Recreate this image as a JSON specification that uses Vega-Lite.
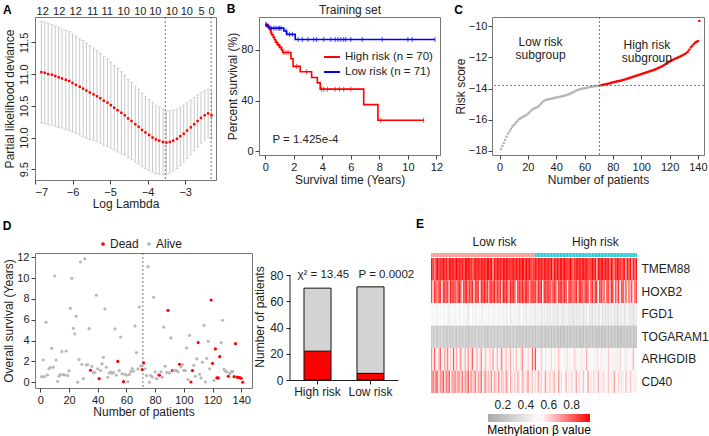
{
"$schema": "https://vega.github.io/schema/vega-lite/v6.json",
"padding": {"left": 2, "top": 2, "right": 0, "bottom": 0},
"background": "white",
"config": {
 "font": "Liberation Sans",
 "view": {"stroke": "#777777"},
 "axis": {"labelFontSize": 11, "titleFontSize": 12, "titleFontWeight": "normal", "labelColor": "#222222", "titleColor": "#222222", "tickColor": "#444444", "domain": false, "grid": false, "tickSize": 4, "labelPadding": 2, "titlePadding": 2, "labelOverlap": false},
 "title": {"fontSize": 12, "fontWeight": "bold", "anchor": "start", "frame": "bounds", "color": "#000000"},
 "legend": {"labelFontSize": 11.5, "labelColor": "#222222"}
},
"datasets": {
 "lasso": [
  {"ll":-6.83,"dev":11.03,"lo":10.23,"hi":11.83},{"ll":-6.74,"dev":11.02,"lo":10.22,"hi":11.82},{"ll":-6.65,"dev":11.00,"lo":10.20,"hi":11.80},{"ll":-6.55,"dev":10.99,"lo":10.20,"hi":11.78},{"ll":-6.46,"dev":10.97,"lo":10.18,"hi":11.76},
  {"ll":-6.37,"dev":10.95,"lo":10.16,"hi":11.74},{"ll":-6.28,"dev":10.93,"lo":10.15,"hi":11.71},{"ll":-6.18,"dev":10.91,"lo":10.13,"hi":11.69},{"ll":-6.09,"dev":10.89,"lo":10.11,"hi":11.67},{"ll":-6.00,"dev":10.86,"lo":10.09,"hi":11.63},
  {"ll":-5.91,"dev":10.83,"lo":10.06,"hi":11.60},{"ll":-5.81,"dev":10.80,"lo":10.04,"hi":11.56},{"ll":-5.72,"dev":10.77,"lo":10.01,"hi":11.53},{"ll":-5.63,"dev":10.74,"lo":9.99,"hi":11.49},{"ll":-5.54,"dev":10.71,"lo":9.97,"hi":11.45},
  {"ll":-5.44,"dev":10.68,"lo":9.95,"hi":11.41},{"ll":-5.35,"dev":10.65,"lo":9.93,"hi":11.37},{"ll":-5.26,"dev":10.62,"lo":9.91,"hi":11.33},{"ll":-5.17,"dev":10.58,"lo":9.88,"hi":11.28},{"ll":-5.07,"dev":10.55,"lo":9.86,"hi":11.24},
  {"ll":-4.98,"dev":10.51,"lo":9.83,"hi":11.19},{"ll":-4.89,"dev":10.47,"lo":9.80,"hi":11.14},{"ll":-4.80,"dev":10.43,"lo":9.77,"hi":11.09},{"ll":-4.70,"dev":10.39,"lo":9.74,"hi":11.04},{"ll":-4.61,"dev":10.35,"lo":9.72,"hi":10.98},
  {"ll":-4.52,"dev":10.30,"lo":9.68,"hi":10.92},{"ll":-4.43,"dev":10.26,"lo":9.65,"hi":10.87},{"ll":-4.33,"dev":10.21,"lo":9.61,"hi":10.81},{"ll":-4.24,"dev":10.17,"lo":9.58,"hi":10.76},{"ll":-4.15,"dev":10.12,"lo":9.54,"hi":10.70},
  {"ll":-4.06,"dev":10.08,"lo":9.51,"hi":10.65},{"ll":-3.96,"dev":10.04,"lo":9.48,"hi":10.60},{"ll":-3.87,"dev":10.00,"lo":9.45,"hi":10.55},{"ll":-3.78,"dev":9.97,"lo":9.43,"hi":10.51},{"ll":-3.69,"dev":9.95,"lo":9.42,"hi":10.48},
  {"ll":-3.59,"dev":9.93,"lo":9.41,"hi":10.45},{"ll":-3.50,"dev":9.92,"lo":9.42,"hi":10.42},{"ll":-3.41,"dev":9.93,"lo":9.44,"hi":10.42},{"ll":-3.32,"dev":9.95,"lo":9.47,"hi":10.43},{"ll":-3.22,"dev":9.98,"lo":9.51,"hi":10.45},
  {"ll":-3.13,"dev":10.02,"lo":9.56,"hi":10.48},{"ll":-3.04,"dev":10.06,"lo":9.61,"hi":10.51},{"ll":-2.95,"dev":10.11,"lo":9.67,"hi":10.55},{"ll":-2.85,"dev":10.16,"lo":9.73,"hi":10.59},{"ll":-2.76,"dev":10.21,"lo":9.79,"hi":10.63},
  {"ll":-2.67,"dev":10.26,"lo":9.85,"hi":10.67},{"ll":-2.58,"dev":10.31,"lo":9.91,"hi":10.71},{"ll":-2.48,"dev":10.35,"lo":9.96,"hi":10.74},{"ll":-2.39,"dev":10.38,"lo":10.00,"hi":10.76},{"ll":-2.30,"dev":10.35,"lo":9.98,"hi":10.72}
 ],
 "km": [
  {"t":0,"s":100,"g":"High risk (n = 70)"},{"t":0.2,"s":98,"g":"High risk (n = 70)"},{"t":0.3,"s":96,"g":"High risk (n = 70)"},{"t":0.38,"s":94,"g":"High risk (n = 70)"},{"t":0.45,"s":92,"g":"High risk (n = 70)"},{"t":0.55,"s":90,"g":"High risk (n = 70)"},{"t":0.65,"s":88,"g":"High risk (n = 70)"},{"t":0.72,"s":86,"g":"High risk (n = 70)"},{"t":0.85,"s":84,"g":"High risk (n = 70)"},{"t":1.0,"s":82,"g":"High risk (n = 70)"},{"t":1.15,"s":80,"g":"High risk (n = 70)"},{"t":1.22,"s":78,"g":"High risk (n = 70)"},{"t":1.8,"s":73,"g":"High risk (n = 70)"},{"t":1.95,"s":67,"g":"High risk (n = 70)"},{"t":2.45,"s":62.7,"g":"High risk (n = 70)"},{"t":3.25,"s":58.2,"g":"High risk (n = 70)"},{"t":3.65,"s":54,"g":"High risk (n = 70)"},{"t":3.85,"s":49,"g":"High risk (n = 70)"},{"t":6.9,"s":36.8,"g":"High risk (n = 70)"},{"t":7.9,"s":24.5,"g":"High risk (n = 70)"},{"t":11.1,"s":24.5,"g":"High risk (n = 70)"},
  {"t":0,"s":100,"g":"Low risk (n = 71)"},{"t":0.1,"s":98.6,"g":"Low risk (n = 71)"},{"t":0.3,"s":97.2,"g":"Low risk (n = 71)"},{"t":1.3,"s":95,"g":"Low risk (n = 71)"},{"t":1.5,"s":92.3,"g":"Low risk (n = 71)"},{"t":2.1,"s":88.2,"g":"Low risk (n = 71)"},{"t":11.9,"s":88.2,"g":"Low risk (n = 71)"}
 ],
 "cens": [
  {"t":0.05,"s":100,"g":"High risk (n = 70)"},{"t":0.25,"s":98,"g":"High risk (n = 70)"},{"t":0.4,"s":94,"g":"High risk (n = 70)"},{"t":0.6,"s":90,"g":"High risk (n = 70)"},{"t":0.8,"s":86,"g":"High risk (n = 70)"},{"t":0.92,"s":84,"g":"High risk (n = 70)"},{"t":1.05,"s":82,"g":"High risk (n = 70)"},{"t":1.3,"s":78,"g":"High risk (n = 70)"},{"t":1.45,"s":78,"g":"High risk (n = 70)"},{"t":1.6,"s":78,"g":"High risk (n = 70)"},{"t":2.2,"s":67,"g":"High risk (n = 70)"},{"t":2.9,"s":62.7,"g":"High risk (n = 70)"},{"t":3.95,"s":49,"g":"High risk (n = 70)"},{"t":4.1,"s":49,"g":"High risk (n = 70)"},{"t":4.35,"s":49,"g":"High risk (n = 70)"},{"t":4.9,"s":49,"g":"High risk (n = 70)"},{"t":5.2,"s":49,"g":"High risk (n = 70)"},{"t":5.5,"s":49,"g":"High risk (n = 70)"},{"t":6.0,"s":49,"g":"High risk (n = 70)"},{"t":8.1,"s":24.5,"g":"High risk (n = 70)"},{"t":11.1,"s":24.5,"g":"High risk (n = 70)"},
  {"t":0.05,"s":100,"g":"Low risk (n = 71)"},{"t":0.2,"s":98.6,"g":"Low risk (n = 71)"},{"t":0.45,"s":97.2,"g":"Low risk (n = 71)"},{"t":0.6,"s":97.2,"g":"Low risk (n = 71)"},{"t":0.75,"s":97.2,"g":"Low risk (n = 71)"},{"t":0.9,"s":97.2,"g":"Low risk (n = 71)"},{"t":1.0,"s":97.2,"g":"Low risk (n = 71)"},{"t":1.1,"s":97.2,"g":"Low risk (n = 71)"},{"t":1.45,"s":95,"g":"Low risk (n = 71)"},{"t":1.7,"s":92.3,"g":"Low risk (n = 71)"},{"t":1.9,"s":92.3,"g":"Low risk (n = 71)"},{"t":2.3,"s":88.2,"g":"Low risk (n = 71)"},{"t":2.6,"s":88.2,"g":"Low risk (n = 71)"},{"t":3.0,"s":88.2,"g":"Low risk (n = 71)"},{"t":3.4,"s":88.2,"g":"Low risk (n = 71)"},{"t":3.6,"s":88.2,"g":"Low risk (n = 71)"},{"t":4.1,"s":88.2,"g":"Low risk (n = 71)"},{"t":4.6,"s":88.2,"g":"Low risk (n = 71)"},{"t":4.9,"s":88.2,"g":"Low risk (n = 71)"},{"t":5.1,"s":88.2,"g":"Low risk (n = 71)"},{"t":5.3,"s":88.2,"g":"Low risk (n = 71)"},{"t":5.5,"s":88.2,"g":"Low risk (n = 71)"},{"t":5.65,"s":88.2,"g":"Low risk (n = 71)"},{"t":6.0,"s":88.2,"g":"Low risk (n = 71)"},{"t":6.8,"s":88.2,"g":"Low risk (n = 71)"},{"t":8.2,"s":88.2,"g":"Low risk (n = 71)"},{"t":10.0,"s":88.2,"g":"Low risk (n = 71)"},{"t":10.3,"s":88.2,"g":"Low risk (n = 71)"},{"t":11.9,"s":88.2,"g":"Low risk (n = 71)"}
 ],
 "pts": [
  {"p":1,"r":-17.9,"os":0.54,"st":"Alive","g":"Low risk","TMEM88":0.93,"HOXB2":0.85,"FGD1":0.50,"TOGARAM1":0.26,"ARHGDIB":0.72,"CD40":0.70},
  {"p":2,"r":-17.7,"os":2.14,"st":"Alive","g":"Low risk","TMEM88":0.90,"HOXB2":0.60,"FGD1":0.46,"TOGARAM1":0.24,"ARHGDIB":0.48,"CD40":0.78},
  {"p":3,"r":-17.5,"os":0.54,"st":"Alive","g":"Low risk","TMEM88":0.72,"HOXB2":0.88,"FGD1":0.52,"TOGARAM1":0.28,"ARHGDIB":0.80,"CD40":0.62},
  {"p":4,"r":-17.3,"os":5.76,"st":"Alive","g":"Low risk","TMEM88":0.92,"HOXB2":0.82,"FGD1":0.48,"TOGARAM1":0.25,"ARHGDIB":0.55,"CD40":0.80},
  {"p":5,"r":-17.1,"os":0.70,"st":"Alive","g":"Low risk","TMEM88":0.94,"HOXB2":0.70,"FGD1":0.44,"TOGARAM1":0.23,"ARHGDIB":0.50,"CD40":0.75},
  {"p":6,"r":-16.9,"os":1.30,"st":"Alive","g":"Low risk","TMEM88":0.91,"HOXB2":0.90,"FGD1":0.51,"TOGARAM1":0.27,"ARHGDIB":0.66,"CD40":0.58},
  {"p":7,"r":-16.75,"os":1.42,"st":"Alive","g":"Low risk","TMEM88":0.88,"HOXB2":0.86,"FGD1":0.47,"TOGARAM1":0.25,"ARHGDIB":0.78,"CD40":0.72},
  {"p":8,"r":-16.6,"os":3.26,"st":"Alive","g":"Low risk","TMEM88":0.93,"HOXB2":0.55,"FGD1":0.53,"TOGARAM1":0.29,"ARHGDIB":0.52,"CD40":0.66},
  {"p":9,"r":-16.45,"os":1.45,"st":"Alive","g":"Low risk","TMEM88":0.95,"HOXB2":0.84,"FGD1":0.45,"TOGARAM1":0.24,"ARHGDIB":0.47,"CD40":0.82},
  {"p":10,"r":-16.35,"os":10.2,"st":"Alive","g":"Low risk","TMEM88":0.90,"HOXB2":0.89,"FGD1":0.49,"TOGARAM1":0.26,"ARHGDIB":0.70,"CD40":0.60},
  {"p":11,"r":-16.25,"os":2.14,"st":"Alive","g":"Low risk","TMEM88":0.92,"HOXB2":0.80,"FGD1":0.52,"TOGARAM1":0.25,"ARHGDIB":0.58,"CD40":0.74},
  {"p":12,"r":-16.15,"os":0.10,"st":"Alive","g":"Low risk","TMEM88":0.80,"HOXB2":0.87,"FGD1":0.47,"TOGARAM1":0.22,"ARHGDIB":0.75,"CD40":0.68},
  {"p":13,"r":-16.05,"os":0.58,"st":"Alive","g":"Low risk","TMEM88":0.93,"HOXB2":0.65,"FGD1":0.43,"TOGARAM1":0.27,"ARHGDIB":0.50,"CD40":0.79},
  {"p":14,"r":-15.95,"os":0.74,"st":"Alive","g":"Low risk","TMEM88":0.91,"HOXB2":0.90,"FGD1":0.50,"TOGARAM1":0.26,"ARHGDIB":0.62,"CD40":0.56},
  {"p":15,"r":-15.9,"os":2.94,"st":"Alive","g":"Low risk","TMEM88":0.94,"HOXB2":0.85,"FGD1":0.48,"TOGARAM1":0.24,"ARHGDIB":0.49,"CD40":0.71},
  {"p":16,"r":-15.85,"os":0.74,"st":"Alive","g":"Low risk","TMEM88":0.89,"HOXB2":0.83,"FGD1":0.54,"TOGARAM1":0.28,"ARHGDIB":0.82,"CD40":0.64},
  {"p":17,"r":-15.8,"os":0.70,"st":"Alive","g":"Low risk","TMEM88":0.92,"HOXB2":0.88,"FGD1":0.46,"TOGARAM1":0.25,"ARHGDIB":0.56,"CD40":0.77},
  {"p":18,"r":-15.75,"os":3.00,"st":"Alive","g":"Low risk","TMEM88":0.95,"HOXB2":0.72,"FGD1":0.49,"TOGARAM1":0.23,"ARHGDIB":0.68,"CD40":0.60},
  {"p":19,"r":-15.7,"os":0.64,"st":"Alive","g":"Low risk","TMEM88":0.93,"HOXB2":0.86,"FGD1":0.51,"TOGARAM1":0.27,"ARHGDIB":0.51,"CD40":0.73},
  {"p":20,"r":-15.62,"os":1.09,"st":"Alive","g":"Low risk","TMEM88":0.90,"HOXB2":0.91,"FGD1":0.44,"TOGARAM1":0.25,"ARHGDIB":0.60,"CD40":0.69},
  {"p":21,"r":-15.55,"os":7.10,"st":"Alive","g":"Low risk","TMEM88":0.94,"HOXB2":0.84,"FGD1":0.48,"TOGARAM1":0.23,"ARHGDIB":0.74,"CD40":0.62},
  {"p":22,"r":-15.45,"os":9.98,"st":"Alive","g":"Low risk","TMEM88":0.91,"HOXB2":0.58,"FGD1":0.52,"TOGARAM1":0.26,"ARHGDIB":0.50,"CD40":0.76},
  {"p":23,"r":-15.35,"os":5.18,"st":"Alive","g":"Low risk","TMEM88":0.85,"HOXB2":0.88,"FGD1":0.45,"TOGARAM1":0.24,"ARHGDIB":0.57,"CD40":0.58},
  {"p":24,"r":-15.3,"os":4.64,"st":"Alive","g":"Low risk","TMEM88":0.93,"HOXB2":0.86,"FGD1":0.50,"TOGARAM1":0.28,"ARHGDIB":0.66,"CD40":0.70},
  {"p":25,"r":-15.25,"os":6.34,"st":"Alive","g":"Low risk","TMEM88":0.96,"HOXB2":0.90,"FGD1":0.47,"TOGARAM1":0.25,"ARHGDIB":0.48,"CD40":0.65},
  {"p":26,"r":-15.22,"os":0.00,"st":"Alive","g":"Low risk","TMEM88":0.92,"HOXB2":0.75,"FGD1":0.41,"TOGARAM1":0.22,"ARHGDIB":0.70,"CD40":0.80},
  {"p":27,"r":-15.18,"os":2.18,"st":"Alive","g":"Low risk","TMEM88":0.90,"HOXB2":0.87,"FGD1":0.49,"TOGARAM1":0.27,"ARHGDIB":0.53,"CD40":0.55},
  {"p":28,"r":-15.1,"os":11.55,"st":"Alive","g":"Low risk","TMEM88":0.93,"HOXB2":0.83,"FGD1":0.53,"TOGARAM1":0.24,"ARHGDIB":0.61,"CD40":0.72},
  {"p":29,"r":-15.0,"os":1.73,"st":"Alive","g":"Low risk","TMEM88":0.78,"HOXB2":0.89,"FGD1":0.46,"TOGARAM1":0.26,"ARHGDIB":0.79,"CD40":0.61},
  {"p":30,"r":-14.9,"os":0.35,"st":"Alive","g":"Low risk","TMEM88":0.94,"HOXB2":0.62,"FGD1":0.50,"TOGARAM1":0.25,"ARHGDIB":0.52,"CD40":0.67},
  {"p":31,"r":-14.82,"os":11.85,"st":"Alive","g":"Low risk","TMEM88":0.92,"HOXB2":0.86,"FGD1":0.44,"TOGARAM1":0.24,"ARHGDIB":0.55,"CD40":0.74},
  {"p":32,"r":-14.76,"os":1.66,"st":"Alive","g":"Low risk","TMEM88":0.95,"HOXB2":0.90,"FGD1":0.48,"TOGARAM1":0.27,"ARHGDIB":0.68,"CD40":0.57},
  {"p":33,"r":-14.72,"os":1.70,"st":"Alive","g":"Low risk","TMEM88":0.91,"HOXB2":0.84,"FGD1":0.51,"TOGARAM1":0.25,"ARHGDIB":0.49,"CD40":0.69},
  {"p":34,"r":-14.7,"os":5.15,"st":"Alive","g":"Low risk","TMEM88":0.93,"HOXB2":0.52,"FGD1":0.46,"TOGARAM1":0.23,"ARHGDIB":0.60,"CD40":0.63},
  {"p":35,"r":-14.68,"os":1.15,"st":"Dead","g":"Low risk","TMEM88":0.90,"HOXB2":0.88,"FGD1":0.49,"TOGARAM1":0.26,"ARHGDIB":0.72,"CD40":0.78},
  {"p":36,"r":-14.66,"os":1.54,"st":"Alive","g":"Low risk","TMEM88":0.94,"HOXB2":0.85,"FGD1":0.43,"TOGARAM1":0.28,"ARHGDIB":0.50,"CD40":0.52},
  {"p":37,"r":-14.64,"os":0.90,"st":"Alive","g":"Low risk","TMEM88":0.92,"HOXB2":0.91,"FGD1":0.52,"TOGARAM1":0.24,"ARHGDIB":0.58,"CD40":0.66},
  {"p":38,"r":-14.62,"os":0.96,"st":"Alive","g":"Low risk","TMEM88":0.88,"HOXB2":0.80,"FGD1":0.47,"TOGARAM1":0.25,"ARHGDIB":0.64,"CD40":0.71},
  {"p":39,"r":-14.6,"os":8.35,"st":"Alive","g":"Low risk","TMEM88":0.95,"HOXB2":0.87,"FGD1":0.50,"TOGARAM1":0.22,"ARHGDIB":0.47,"CD40":0.59},
  {"p":40,"r":-14.58,"os":1.28,"st":"Alive","g":"Low risk","TMEM88":0.93,"HOXB2":0.68,"FGD1":0.45,"TOGARAM1":0.26,"ARHGDIB":0.56,"CD40":0.64},
  {"p":41,"r":-14.56,"os":0.35,"st":"Dead","g":"Low risk","TMEM88":0.91,"HOXB2":0.89,"FGD1":0.47,"TOGARAM1":0.25,"ARHGDIB":0.62,"CD40":0.60},
  {"p":42,"r":-14.54,"os":1.12,"st":"Alive","g":"Low risk","TMEM88":0.94,"HOXB2":0.84,"FGD1":0.51,"TOGARAM1":0.23,"ARHGDIB":0.51,"CD40":0.73},
  {"p":43,"r":-14.52,"os":1.76,"st":"Alive","g":"Low risk","TMEM88":0.75,"HOXB2":0.86,"FGD1":0.44,"TOGARAM1":0.27,"ARHGDIB":0.70,"CD40":0.54},
  {"p":44,"r":-14.5,"os":2.40,"st":"Alive","g":"Low risk","TMEM88":0.92,"HOXB2":0.90,"FGD1":0.49,"TOGARAM1":0.24,"ARHGDIB":0.54,"CD40":0.68},
  {"p":45,"r":-14.48,"os":7.04,"st":"Alive","g":"Low risk","TMEM88":0.90,"HOXB2":0.74,"FGD1":0.46,"TOGARAM1":0.26,"ARHGDIB":0.48,"CD40":0.62},
  {"p":46,"r":-14.46,"os":1.44,"st":"Alive","g":"Low risk","TMEM88":0.93,"HOXB2":0.88,"FGD1":0.52,"TOGARAM1":0.25,"ARHGDIB":0.66,"CD40":0.57},
  {"p":47,"r":-14.43,"os":0.48,"st":"Alive","g":"Low risk","TMEM88":0.95,"HOXB2":0.83,"FGD1":0.42,"TOGARAM1":0.22,"ARHGDIB":0.52,"CD40":0.75},
  {"p":48,"r":-14.4,"os":0.90,"st":"Alive","g":"Low risk","TMEM88":0.91,"HOXB2":0.87,"FGD1":0.48,"TOGARAM1":0.28,"ARHGDIB":0.59,"CD40":0.50},
  {"p":49,"r":-14.36,"os":0.99,"st":"Alive","g":"Low risk","TMEM88":0.89,"HOXB2":0.60,"FGD1":0.50,"TOGARAM1":0.24,"ARHGDIB":0.76,"CD40":0.66},
  {"p":50,"r":-14.32,"os":0.86,"st":"Alive","g":"Low risk","TMEM88":0.93,"HOXB2":0.91,"FGD1":0.45,"TOGARAM1":0.25,"ARHGDIB":0.50,"CD40":0.61},
  {"p":51,"r":-14.28,"os":0.93,"st":"Alive","g":"Low risk","TMEM88":0.92,"HOXB2":0.85,"FGD1":0.49,"TOGARAM1":0.23,"ARHGDIB":0.57,"CD40":0.56},
  {"p":52,"r":-14.23,"os":5.12,"st":"Alive","g":"Low risk","TMEM88":0.94,"HOXB2":0.88,"FGD1":0.44,"TOGARAM1":0.26,"ARHGDIB":0.63,"CD40":0.70},
  {"p":53,"r":-14.18,"os":0.67,"st":"Alive","g":"Low risk","TMEM88":0.90,"HOXB2":0.82,"FGD1":0.47,"TOGARAM1":0.24,"ARHGDIB":0.49,"CD40":0.63},
  {"p":54,"r":-14.13,"os":2.00,"st":"Dead","g":"Low risk","TMEM88":0.93,"HOXB2":0.70,"FGD1":0.51,"TOGARAM1":0.22,"ARHGDIB":0.55,"CD40":0.52},
  {"p":55,"r":-14.1,"os":1.12,"st":"Alive","g":"Low risk","TMEM88":0.86,"HOXB2":0.90,"FGD1":0.40,"TOGARAM1":0.27,"ARHGDIB":0.68,"CD40":0.67},
  {"p":56,"r":-14.07,"os":4.35,"st":"Alive","g":"Low risk","TMEM88":0.95,"HOXB2":0.86,"FGD1":0.46,"TOGARAM1":0.25,"ARHGDIB":0.51,"CD40":0.59},
  {"p":57,"r":-14.04,"os":0.80,"st":"Alive","g":"Low risk","TMEM88":0.92,"HOXB2":0.89,"FGD1":0.49,"TOGARAM1":0.23,"ARHGDIB":0.60,"CD40":0.48},
  {"p":58,"r":-14.02,"os":0.06,"st":"Dead","g":"Low risk","TMEM88":0.91,"HOXB2":0.84,"FGD1":0.43,"TOGARAM1":0.26,"ARHGDIB":0.48,"CD40":0.64},
  {"p":59,"r":-14.0,"os":0.77,"st":"Alive","g":"Low risk","TMEM88":0.94,"HOXB2":0.57,"FGD1":0.48,"TOGARAM1":0.24,"ARHGDIB":0.65,"CD40":0.55},
  {"p":60,"r":-13.98,"os":0.67,"st":"Alive","g":"Low risk","TMEM88":0.90,"HOXB2":0.88,"FGD1":0.45,"TOGARAM1":0.22,"ARHGDIB":0.53,"CD40":0.69},
  {"p":61,"r":-13.96,"os":0.06,"st":"Alive","g":"Low risk","TMEM88":0.93,"HOXB2":0.87,"FGD1":0.42,"TOGARAM1":0.25,"ARHGDIB":0.50,"CD40":0.58},
  {"p":62,"r":-13.94,"os":0.74,"st":"Alive","g":"Low risk","TMEM88":0.91,"HOXB2":0.83,"FGD1":0.47,"TOGARAM1":0.23,"ARHGDIB":0.58,"CD40":0.51},
  {"p":63,"r":-13.92,"os":1.02,"st":"Alive","g":"Low risk","TMEM88":0.95,"HOXB2":0.90,"FGD1":0.50,"TOGARAM1":0.21,"ARHGDIB":0.72,"CD40":0.66},
  {"p":64,"r":-13.9,"os":1.31,"st":"Alive","g":"Low risk","TMEM88":0.92,"HOXB2":0.78,"FGD1":0.44,"TOGARAM1":0.26,"ARHGDIB":0.49,"CD40":0.62},
  {"p":65,"r":-13.89,"os":1.06,"st":"Alive","g":"Low risk","TMEM88":0.88,"HOXB2":0.86,"FGD1":0.46,"TOGARAM1":0.24,"ARHGDIB":0.56,"CD40":0.49},
  {"p":66,"r":-13.87,"os":5.41,"st":"Alive","g":"Low risk","TMEM88":0.94,"HOXB2":0.89,"FGD1":0.40,"TOGARAM1":0.22,"ARHGDIB":0.52,"CD40":0.60},
  {"p":67,"r":-13.85,"os":2.85,"st":"Alive","g":"Low risk","TMEM88":0.90,"HOXB2":0.85,"FGD1":0.48,"TOGARAM1":0.25,"ARHGDIB":0.61,"CD40":0.72},
  {"p":68,"r":-13.84,"os":1.28,"st":"Alive","g":"Low risk","TMEM88":0.93,"HOXB2":0.66,"FGD1":0.45,"TOGARAM1":0.23,"ARHGDIB":0.47,"CD40":0.53},
  {"p":69,"r":-13.83,"os":7.23,"st":"Alive","g":"Low risk","TMEM88":0.92,"HOXB2":0.88,"FGD1":0.43,"TOGARAM1":0.24,"ARHGDIB":0.54,"CD40":0.57},
  {"p":70,"r":-13.82,"os":1.57,"st":"Alive","g":"Low risk","TMEM88":0.80,"HOXB2":0.84,"FGD1":0.47,"TOGARAM1":0.21,"ARHGDIB":0.80,"CD40":0.63},
  {"p":71,"r":-13.81,"os":1.22,"st":"Dead","g":"Low risk","TMEM88":0.94,"HOXB2":0.90,"FGD1":0.44,"TOGARAM1":0.23,"ARHGDIB":0.52,"CD40":0.50},
  {"p":72,"r":-13.78,"os":1.86,"st":"Dead","g":"High risk","TMEM88":0.91,"HOXB2":0.86,"FGD1":0.41,"TOGARAM1":0.21,"ARHGDIB":0.84,"CD40":0.60},
  {"p":73,"r":-13.76,"os":1.30,"st":"Alive","g":"High risk","TMEM88":0.93,"HOXB2":0.72,"FGD1":0.46,"TOGARAM1":0.25,"ARHGDIB":0.48,"CD40":0.55},
  {"p":74,"r":-13.74,"os":0.64,"st":"Alive","g":"High risk","TMEM88":0.90,"HOXB2":0.88,"FGD1":0.43,"TOGARAM1":0.22,"ARHGDIB":0.55,"CD40":0.68},
  {"p":75,"r":-13.72,"os":11.1,"st":"Alive","g":"High risk","TMEM88":0.95,"HOXB2":0.84,"FGD1":0.48,"TOGARAM1":0.24,"ARHGDIB":0.50,"CD40":0.47},
  {"p":76,"r":-13.7,"os":0.00,"st":"Alive","g":"High risk","TMEM88":0.92,"HOXB2":0.91,"FGD1":0.39,"TOGARAM1":0.20,"ARHGDIB":0.62,"CD40":0.62},
  {"p":77,"r":-13.68,"os":0.64,"st":"Alive","g":"High risk","TMEM88":0.87,"HOXB2":0.55,"FGD1":0.45,"TOGARAM1":0.23,"ARHGDIB":0.46,"CD40":0.52},
  {"p":78,"r":-13.66,"os":0.50,"st":"Alive","g":"High risk","TMEM88":0.93,"HOXB2":0.87,"FGD1":0.42,"TOGARAM1":0.25,"ARHGDIB":0.53,"CD40":0.58},
  {"p":79,"r":-13.63,"os":8.16,"st":"Alive","g":"High risk","TMEM88":0.91,"HOXB2":0.85,"FGD1":0.47,"TOGARAM1":0.21,"ARHGDIB":0.58,"CD40":0.70},
  {"p":80,"r":-13.6,"os":1.00,"st":"Alive","g":"High risk","TMEM88":0.94,"HOXB2":0.89,"FGD1":0.40,"TOGARAM1":0.23,"ARHGDIB":0.49,"CD40":0.49},
  {"p":81,"r":-13.58,"os":0.35,"st":"Alive","g":"High risk","TMEM88":0.90,"HOXB2":0.83,"FGD1":0.44,"TOGARAM1":0.22,"ARHGDIB":0.54,"CD40":0.56},
  {"p":82,"r":-13.56,"os":0.74,"st":"Alive","g":"High risk","TMEM88":0.92,"HOXB2":0.90,"FGD1":0.38,"TOGARAM1":0.24,"ARHGDIB":0.47,"CD40":0.63},
  {"p":83,"r":-13.54,"os":0.67,"st":"Dead","g":"High risk","TMEM88":0.95,"HOXB2":0.68,"FGD1":0.46,"TOGARAM1":0.20,"ARHGDIB":0.60,"CD40":0.48},
  {"p":84,"r":-13.52,"os":1.00,"st":"Alive","g":"High risk","TMEM88":0.78,"HOXB2":0.86,"FGD1":0.42,"TOGARAM1":0.23,"ARHGDIB":0.51,"CD40":0.59},
  {"p":85,"r":-13.5,"os":0.48,"st":"Alive","g":"High risk","TMEM88":0.93,"HOXB2":0.88,"FGD1":0.40,"TOGARAM1":0.21,"ARHGDIB":0.45,"CD40":0.66},
  {"p":86,"r":-13.48,"os":5.30,"st":"Alive","g":"High risk","TMEM88":0.91,"HOXB2":0.84,"FGD1":0.45,"TOGARAM1":0.25,"ARHGDIB":0.56,"CD40":0.51},
  {"p":87,"r":-13.45,"os":1.54,"st":"Alive","g":"High risk","TMEM88":0.94,"HOXB2":0.61,"FGD1":0.37,"TOGARAM1":0.22,"ARHGDIB":0.49,"CD40":0.54},
  {"p":88,"r":-13.43,"os":0.93,"st":"Alive","g":"High risk","TMEM88":0.89,"HOXB2":0.89,"FGD1":0.43,"TOGARAM1":0.20,"ARHGDIB":0.64,"CD40":0.72},
  {"p":89,"r":-13.4,"os":6.90,"st":"Dead","g":"High risk","TMEM88":0.92,"HOXB2":0.85,"FGD1":0.47,"TOGARAM1":0.23,"ARHGDIB":0.46,"CD40":0.47},
  {"p":90,"r":-13.37,"os":0.90,"st":"Alive","g":"High risk","TMEM88":0.93,"HOXB2":0.87,"FGD1":0.41,"TOGARAM1":0.21,"ARHGDIB":0.52,"CD40":0.60},
  {"p":91,"r":-13.34,"os":4.26,"st":"Alive","g":"High risk","TMEM88":0.90,"HOXB2":0.80,"FGD1":0.39,"TOGARAM1":0.22,"ARHGDIB":0.48,"CD40":0.53},
  {"p":92,"r":-13.31,"os":1.12,"st":"Dead","g":"High risk","TMEM88":0.94,"HOXB2":0.88,"FGD1":0.44,"TOGARAM1":0.20,"ARHGDIB":0.55,"CD40":0.46},
  {"p":93,"r":-13.28,"os":1.12,"st":"Alive","g":"High risk","TMEM88":0.92,"HOXB2":0.86,"FGD1":0.42,"TOGARAM1":0.24,"ARHGDIB":0.44,"CD40":0.65},
  {"p":94,"r":-13.25,"os":1.15,"st":"Alive","g":"High risk","TMEM88":0.85,"HOXB2":0.52,"FGD1":0.46,"TOGARAM1":0.21,"ARHGDIB":0.59,"CD40":0.50},
  {"p":95,"r":-13.22,"os":1.12,"st":"Alive","g":"High risk","TMEM88":0.93,"HOXB2":0.90,"FGD1":0.38,"TOGARAM1":0.23,"ARHGDIB":0.50,"CD40":0.58},
  {"p":96,"r":-13.19,"os":1.00,"st":"Alive","g":"High risk","TMEM88":0.95,"HOXB2":0.84,"FGD1":0.43,"TOGARAM1":0.19,"ARHGDIB":0.47,"CD40":0.48},
  {"p":97,"r":-13.16,"os":1.73,"st":"Dead","g":"High risk","TMEM88":0.91,"HOXB2":0.87,"FGD1":0.41,"TOGARAM1":0.22,"ARHGDIB":0.53,"CD40":0.62},
  {"p":98,"r":-13.13,"os":1.47,"st":"Alive","g":"High risk","TMEM88":0.76,"HOXB2":0.74,"FGD1":0.36,"TOGARAM1":0.24,"ARHGDIB":0.45,"CD40":0.55},
  {"p":99,"r":-13.1,"os":1.70,"st":"Alive","g":"High risk","TMEM88":0.93,"HOXB2":0.85,"FGD1":0.45,"TOGARAM1":0.20,"ARHGDIB":0.62,"CD40":0.45},
  {"p":100,"r":-13.07,"os":1.12,"st":"Alive","g":"High risk","TMEM88":0.90,"HOXB2":0.89,"FGD1":0.40,"TOGARAM1":0.22,"ARHGDIB":0.49,"CD40":0.68},
  {"p":101,"r":-13.04,"os":1.12,"st":"Alive","g":"High risk","TMEM88":0.94,"HOXB2":0.62,"FGD1":0.43,"TOGARAM1":0.21,"ARHGDIB":0.46,"CD40":0.52},
  {"p":102,"r":-13.01,"os":3.30,"st":"Alive","g":"High risk","TMEM88":0.92,"HOXB2":0.86,"FGD1":0.38,"TOGARAM1":0.23,"ARHGDIB":0.52,"CD40":0.60},
  {"p":103,"r":-12.98,"os":0.26,"st":"Alive","g":"High risk","TMEM88":0.88,"HOXB2":0.88,"FGD1":0.46,"TOGARAM1":0.19,"ARHGDIB":0.57,"CD40":0.47},
  {"p":104,"r":-12.95,"os":4.50,"st":"Alive","g":"High risk","TMEM88":0.93,"HOXB2":0.83,"FGD1":0.41,"TOGARAM1":0.22,"ARHGDIB":0.44,"CD40":0.56},
  {"p":105,"r":-12.92,"os":0.03,"st":"Dead","g":"High risk","TMEM88":0.91,"HOXB2":0.70,"FGD1":0.37,"TOGARAM1":0.20,"ARHGDIB":0.50,"CD40":0.64},
  {"p":106,"r":-12.89,"os":1.12,"st":"Dead","g":"High risk","TMEM88":0.95,"HOXB2":0.87,"FGD1":0.44,"TOGARAM1":0.24,"ARHGDIB":0.48,"CD40":0.49},
  {"p":107,"r":-12.86,"os":1.63,"st":"Alive","g":"High risk","TMEM88":0.90,"HOXB2":0.85,"FGD1":0.40,"TOGARAM1":0.21,"ARHGDIB":0.66,"CD40":0.53},
  {"p":108,"r":-12.83,"os":0.58,"st":"Alive","g":"High risk","TMEM88":0.93,"HOXB2":0.90,"FGD1":0.52,"TOGARAM1":0.19,"ARHGDIB":0.45,"CD40":0.70},
  {"p":109,"r":-12.8,"os":2.24,"st":"Alive","g":"High risk","TMEM88":0.80,"HOXB2":0.58,"FGD1":0.39,"TOGARAM1":0.23,"ARHGDIB":0.51,"CD40":0.46},
  {"p":110,"r":-12.76,"os":3.81,"st":"Dead","g":"High risk","TMEM88":0.92,"HOXB2":0.84,"FGD1":0.42,"TOGARAM1":0.21,"ARHGDIB":0.47,"CD40":0.58},
  {"p":111,"r":-12.72,"os":0.77,"st":"Alive","g":"High risk","TMEM88":0.94,"HOXB2":0.88,"FGD1":0.36,"TOGARAM1":0.20,"ARHGDIB":0.53,"CD40":0.50},
  {"p":112,"r":-12.68,"os":0.42,"st":"Alive","g":"High risk","TMEM88":0.91,"HOXB2":0.66,"FGD1":0.43,"TOGARAM1":0.22,"ARHGDIB":0.44,"CD40":0.62},
  {"p":113,"r":-12.64,"os":1.92,"st":"Alive","g":"High risk","TMEM88":0.93,"HOXB2":0.86,"FGD1":0.40,"TOGARAM1":0.24,"ARHGDIB":0.49,"CD40":0.45},
  {"p":114,"r":-12.6,"os":5.47,"st":"Alive","g":"High risk","TMEM88":0.70,"HOXB2":0.89,"FGD1":0.45,"TOGARAM1":0.19,"ARHGDIB":0.58,"CD40":0.55},
  {"p":115,"r":-12.55,"os":0.03,"st":"Alive","g":"High risk","TMEM88":0.92,"HOXB2":0.54,"FGD1":0.38,"TOGARAM1":0.21,"ARHGDIB":0.46,"CD40":0.66},
  {"p":116,"r":-12.5,"os":2.30,"st":"Alive","g":"High risk","TMEM88":0.90,"HOXB2":0.85,"FGD1":0.41,"TOGARAM1":0.23,"ARHGDIB":0.51,"CD40":0.48},
  {"p":117,"r":-12.44,"os":3.94,"st":"Alive","g":"High risk","TMEM88":0.94,"HOXB2":0.87,"FGD1":0.50,"TOGARAM1":0.20,"ARHGDIB":0.43,"CD40":0.57},
  {"p":118,"r":-12.38,"os":1.30,"st":"Alive","g":"High risk","TMEM88":0.93,"HOXB2":0.72,"FGD1":0.37,"TOGARAM1":0.22,"ARHGDIB":0.55,"CD40":0.44},
  {"p":119,"r":-12.32,"os":7.90,"st":"Dead","g":"High risk","TMEM88":0.88,"HOXB2":0.84,"FGD1":0.43,"TOGARAM1":0.19,"ARHGDIB":0.48,"CD40":0.60},
  {"p":120,"r":-12.27,"os":1.82,"st":"Dead","g":"High risk","TMEM88":0.92,"HOXB2":0.50,"FGD1":0.39,"TOGARAM1":0.21,"ARHGDIB":0.45,"CD40":0.52},
  {"p":121,"r":-12.22,"os":0.16,"st":"Alive","g":"High risk","TMEM88":0.95,"HOXB2":0.88,"FGD1":0.42,"TOGARAM1":0.23,"ARHGDIB":0.50,"CD40":0.47},
  {"p":122,"r":-12.17,"os":3.20,"st":"Dead","g":"High risk","TMEM88":0.91,"HOXB2":0.83,"FGD1":0.36,"TOGARAM1":0.20,"ARHGDIB":0.62,"CD40":0.63},
  {"p":123,"r":-12.12,"os":0.42,"st":"Dead","g":"High risk","TMEM88":0.82,"HOXB2":0.65,"FGD1":0.44,"TOGARAM1":0.22,"ARHGDIB":0.46,"CD40":0.50},
  {"p":124,"r":-12.08,"os":0.42,"st":"Dead","g":"High risk","TMEM88":0.93,"HOXB2":0.86,"FGD1":0.40,"TOGARAM1":0.19,"ARHGDIB":0.52,"CD40":0.56},
  {"p":125,"r":-12.04,"os":2.46,"st":"Dead","g":"High risk","TMEM88":0.90,"HOXB2":0.90,"FGD1":0.47,"TOGARAM1":0.21,"ARHGDIB":0.44,"CD40":0.45},
  {"p":126,"r":-12.0,"os":3.81,"st":"Alive","g":"High risk","TMEM88":0.76,"HOXB2":0.56,"FGD1":0.38,"TOGARAM1":0.24,"ARHGDIB":0.49,"CD40":0.68},
  {"p":127,"r":-11.96,"os":5.95,"st":"Alive","g":"High risk","TMEM88":0.92,"HOXB2":0.84,"FGD1":0.42,"TOGARAM1":0.20,"ARHGDIB":0.56,"CD40":0.49},
  {"p":128,"r":-11.92,"os":1.25,"st":"Alive","g":"High risk","TMEM88":0.94,"HOXB2":0.70,"FGD1":0.35,"TOGARAM1":0.22,"ARHGDIB":0.45,"CD40":0.54},
  {"p":129,"r":-11.87,"os":1.06,"st":"Alive","g":"High risk","TMEM88":0.89,"HOXB2":0.87,"FGD1":0.41,"TOGARAM1":0.21,"ARHGDIB":0.50,"CD40":0.61},
  {"p":130,"r":-11.82,"os":1.00,"st":"Alive","g":"High risk","TMEM88":0.91,"HOXB2":0.52,"FGD1":0.44,"TOGARAM1":0.19,"ARHGDIB":0.60,"CD40":0.46},
  {"p":131,"r":-11.77,"os":0.58,"st":"Dead","g":"High risk","TMEM88":0.78,"HOXB2":0.82,"FGD1":0.39,"TOGARAM1":0.22,"ARHGDIB":0.47,"CD40":0.58},
  {"p":132,"r":-11.7,"os":0.83,"st":"Alive","g":"High risk","TMEM88":0.93,"HOXB2":0.88,"FGD1":0.46,"TOGARAM1":0.20,"ARHGDIB":0.53,"CD40":0.44},
  {"p":133,"r":-11.62,"os":1.02,"st":"Alive","g":"High risk","TMEM88":0.90,"HOXB2":0.60,"FGD1":0.37,"TOGARAM1":0.23,"ARHGDIB":0.44,"CD40":0.52},
  {"p":134,"r":-11.5,"os":1.02,"st":"Alive","g":"High risk","TMEM88":0.72,"HOXB2":0.85,"FGD1":0.42,"TOGARAM1":0.21,"ARHGDIB":0.58,"CD40":0.65},
  {"p":135,"r":-11.35,"os":0.54,"st":"Dead","g":"High risk","TMEM88":0.92,"HOXB2":0.48,"FGD1":0.50,"TOGARAM1":0.19,"ARHGDIB":0.49,"CD40":0.47},
  {"p":136,"r":-11.25,"os":3.71,"st":"Dead","g":"High risk","TMEM88":0.85,"HOXB2":0.80,"FGD1":0.38,"TOGARAM1":0.22,"ARHGDIB":0.46,"CD40":0.55},
  {"p":137,"r":-11.15,"os":0.51,"st":"Dead","g":"High risk","TMEM88":0.94,"HOXB2":0.66,"FGD1":0.44,"TOGARAM1":0.20,"ARHGDIB":0.52,"CD40":0.62},
  {"p":138,"r":-11.05,"os":0.45,"st":"Dead","g":"High risk","TMEM88":0.68,"HOXB2":0.86,"FGD1":0.40,"TOGARAM1":0.24,"ARHGDIB":0.45,"CD40":0.43},
  {"p":139,"r":-11.0,"os":0.45,"st":"Dead","g":"High risk","TMEM88":0.90,"HOXB2":0.55,"FGD1":0.36,"TOGARAM1":0.21,"ARHGDIB":0.64,"CD40":0.50},
  {"p":140,"r":-10.95,"os":0.38,"st":"Dead","g":"High risk","TMEM88":0.80,"HOXB2":0.78,"FGD1":0.43,"TOGARAM1":0.20,"ARHGDIB":0.48,"CD40":0.57},
  {"p":141,"r":-9.65,"os":0.00,"st":"Dead","g":"High risk","TMEM88":0.93,"HOXB2":0.84,"FGD1":0.41,"TOGARAM1":0.22,"ARHGDIB":0.50,"CD40":0.48}
 ]
},
"vconcat": [
 {
  "hconcat": [
   {
    "width": 181, "height": 163,
    "title": {"text": "A", "offset": 0, "dy": 12},
    "layer": [
     {
      "layer": [
       {"data": {"name": "lasso"}, "mark": {"type": "rule", "color": "#c8c8c8", "strokeWidth": 1},
        "encoding": {
         "x": {"field": "ll", "type": "quantitative", "scale": {"domain": [-7, -2.18], "nice": false, "zero": false}, "axis": {"title": "Log Lambda", "values": [-7, -6, -5, -4, -3], "titlePadding": 1, "labelOverlap": false}},
         "y": {"field": "lo", "type": "quantitative", "scale": {"domain": [9.33, 11.9], "nice": false, "zero": false}, "axis": {"title": "Partial likelihood deviance", "values": [9.5, 10, 10.5, 11, 11.5], "format": ".1f", "labelAngle": -90, "labelPadding": 2, "titlePadding": 2, "labelOverlap": false}},
         "y2": {"field": "hi"}}},
       {"data": {"name": "lasso"}, "mark": {"type": "tick", "orient": "horizontal", "color": "#c8c8c8", "size": 3.5, "thickness": 1},
        "encoding": {"x": {"field": "ll", "type": "quantitative"}, "y": {"field": "hi", "type": "quantitative"}}},
       {"data": {"name": "lasso"}, "mark": {"type": "tick", "orient": "horizontal", "color": "#c8c8c8", "size": 3.5, "thickness": 1},
        "encoding": {"x": {"field": "ll", "type": "quantitative"}, "y": {"field": "lo", "type": "quantitative"}}},
       {"data": {"name": "lasso"}, "mark": {"type": "square", "color": "#ff0000", "size": 6, "opacity": 1},
        "encoding": {"x": {"field": "ll", "type": "quantitative"}, "y": {"field": "dev", "type": "quantitative"}}},
       {"data": {"values": [{"lam": -3.53}, {"lam": -2.31}]}, "mark": {"type": "rule", "strokeDash": [2, 2], "color": "#555555", "strokeWidth": 0.8},
        "encoding": {"x": {"field": "lam", "type": "quantitative"}}}
      ]
     },
     {
      "data": {"values": [{"ll": -6.81}, {"ll": -2.31}]},
      "mark": {"type": "point", "opacity": 0},
      "encoding": {"x": {"field": "ll", "type": "quantitative", "axis": {"orient": "top", "title": null, "ticks": false, "tickSize": 0, "labelPadding": 1, "labelOverlap": false, "values": [-6.81, -6.37, -5.93, -5.48, -5.09, -4.65, -4.21, -3.81, -3.37, -2.97, -2.58, -2.31], "labelExpr": "datum.value < -5.7 ? '12' : datum.value < -4.9 ? '11' : datum.value < -2.8 ? '10' : datum.value < -2.45 ? '5' : '0'", "labelFlush": false}}}
     }
    ],
    "resolve": {"axis": {"x": "independent"}}
   },
   {
    "width": 181, "height": 138,
    "title": {"text": "B", "offset": 0, "dy": 13},
    "layer": [
     {"data": {"name": "km"}, "mark": {"type": "line", "interpolate": "step-after", "strokeWidth": 1.6},
      "encoding": {
       "x": {"field": "t", "type": "quantitative", "scale": {"domain": [-0.44, 12.25], "nice": false}, "axis": {"title": "Survival time (Years)", "values": [0, 2, 4, 6, 8, 10, 12], "labelOverlap": false}},
       "y": {"field": "s", "type": "quantitative", "scale": {"domain": [-3, 106], "nice": false}, "axis": {"title": "Percent survival (%)", "values": [0, 20, 40, 60, 80, 100], "titlePadding": 1, "labelOverlap": false}},
       "color": {"field": "g", "type": "nominal", "scale": {"domain": ["High risk (n = 70)", "Low risk (n = 71)"], "range": ["#ff0000", "#0000ff"]},
        "legend": {"title": null, "orient": "none", "legendX": 64, "legendY": 31, "symbolType": "stroke", "symbolSize": 250, "symbolStrokeWidth": 2, "labelFontSize": 11.5, "rowPadding": 0}}}},
     {"data": {"name": "cens"}, "mark": {"type": "tick", "orient": "vertical", "size": 5, "thickness": 1},
      "encoding": {"x": {"field": "t", "type": "quantitative", "axis": null}, "y": {"field": "s", "type": "quantitative"}, "color": {"field": "g", "type": "nominal", "legend": null}}},
     {"data": {"values": [{}]}, "mark": {"type": "text", "align": "left", "baseline": "middle", "fontSize": 11.5, "color": "#222222"},
      "encoding": {
       "x": {"datum": 0.5, "type": "quantitative", "axis": null},
       "y": {"datum": 8.5, "type": "quantitative", "axis": {"title": "Percent survival (%)", "values": [0, 20, 40, 60, 80, 100], "titlePadding": 1, "labelOverlap": false}},
       "text": {"value": "P = 1.425e-4"}}},
     {"data": {"values": [{"t": 6}]},
      "mark": {"type": "point", "opacity": 0},
      "encoding": {"x": {"field": "t", "type": "quantitative", "axis": {"orient": "top", "title": "Training set", "labels": false, "ticks": false, "tickSize": 0, "titlePadding": 1}}}}
    ],
    "resolve": {"axis": {"x": "independent"}}
   },
   {
    "width": 212, "height": 138,
    "title": {"text": "C", "offset": 0},
    "layer": [
     {"data": {"name": "pts"}, "mark": {"type": "square", "size": 5, "opacity": 1},
      "encoding": {
       "x": {"field": "p", "type": "quantitative", "scale": {"domain": [-5.3, 144.3], "nice": false}, "axis": {"title": "Number of patients", "values": [0, 20, 40, 60, 80, 100, 120, 140], "labelOverlap": false}},
       "y": {"field": "r", "type": "quantitative", "scale": {"domain": [-18.27, -9.4], "nice": false, "zero": false}, "axis": {"title": "Risk score", "values": [-18, -16, -14, -12, -10], "labelPadding": 1, "titlePadding": 1, "labelOverlap": false}},
       "color": {"field": "g", "type": "nominal", "scale": {"domain": ["Low risk", "High risk"], "range": ["#b5b5b5", "#ff0000"]}, "legend": null}}},
     {"data": {"values": [{}]}, "mark": {"type": "rule", "strokeDash": [2, 2], "color": "#555555", "strokeWidth": 0.8},
      "encoding": {"x": {"datum": 70.5, "type": "quantitative", "axis": {"title": "Number of patients", "values": [0, 20, 40, 60, 80, 100, 120, 140], "labelOverlap": false}}}},
     {"data": {"values": [{}]}, "mark": {"type": "rule", "strokeDash": [2, 2], "color": "#555555", "strokeWidth": 0.8},
      "encoding": {"y": {"datum": -13.8, "type": "quantitative", "axis": {"title": "Risk score", "values": [-18, -16, -14, -12, -10], "labelPadding": 1, "titlePadding": 1, "labelOverlap": false}}}},
     {"data": {"values": [{}]}, "mark": {"type": "text", "align": "center", "baseline": "middle", "fontSize": 12, "lineHeight": 13, "color": "#222222"},
      "encoding": {
       "x": {"datum": 29, "type": "quantitative", "axis": {"title": "Number of patients", "values": [0, 20, 40, 60, 80, 100, 120, 140], "labelOverlap": false}},
       "y": {"datum": -11.0, "type": "quantitative", "axis": {"title": "Risk score", "values": [-18, -16, -14, -12, -10], "labelPadding": 1, "titlePadding": 1, "labelOverlap": false}},
       "text": {"value": ["Low risk", "subgroup"]}}},
     {"data": {"values": [{}]}, "mark": {"type": "text", "align": "center", "baseline": "middle", "fontSize": 12, "lineHeight": 13, "color": "#222222"},
      "encoding": {
       "x": {"datum": 104, "type": "quantitative", "axis": {"title": "Number of patients", "values": [0, 20, 40, 60, 80, 100, 120, 140], "labelOverlap": false}},
       "y": {"datum": -11.2, "type": "quantitative", "axis": {"title": "Risk score", "values": [-18, -16, -14, -12, -10], "labelPadding": 1, "titlePadding": 1, "labelOverlap": false}},
       "text": {"value": ["High risk", "subgroup"]}}}
    ]
   }
  ],
  "spacing": 9,
  "resolve": {"scale": {"color": "independent"}, "legend": {"color": "independent"}}
 },
 {
  "hconcat": [
   {
    "width": 217, "height": 135,
    "title": {"text": "D", "offset": 5},
    "layer": [
     {"data": {"name": "pts"}, "mark": {"type": "circle", "size": 10, "opacity": 1},
      "encoding": {
       "x": {"field": "p", "type": "quantitative", "scale": {"domain": [-3.7, 147.5], "nice": false}, "axis": {"title": "Number of patients", "values": [0, 20, 40, 60, 80, 100, 120, 140], "titlePadding": 1, "labelOverlap": false}},
       "y": {"field": "os", "type": "quantitative", "scale": {"domain": [-0.55, 12.41], "nice": false}, "axis": {"title": "Overall survival (Years)", "values": [0, 2, 4, 6, 8, 10, 12], "titlePadding": 1, "labelOverlap": false}},
       "color": {"field": "st", "type": "nominal", "scale": {"domain": ["Dead", "Alive"], "range": ["#ff0000", "#b8b8b8"]},
        "legend": {"title": null, "orient": "none", "legendX": 62, "legendY": -15, "direction": "horizontal", "symbolType": "circle", "symbolSize": 14, "labelFontSize": 12, "columnPadding": 4, "labelOffset": 1}}}},
     {"data": {"values": [{}]}, "mark": {"type": "rule", "strokeDash": [2, 2], "color": "#555555", "strokeWidth": 0.8},
      "encoding": {"x": {"datum": 71.5, "type": "quantitative", "axis": {"title": "Number of patients", "values": [0, 20, 40, 60, 80, 100, 120, 140], "titlePadding": 1, "labelOverlap": false}}}}
    ]
   },
   {
    "width": 108, "height": 127,
    "view": {"stroke": null},
    "layer": [
     {"data": {"name": "pts"}, "mark": {"type": "bar", "stroke": "#111111", "strokeWidth": 1},
      "encoding": {
       "x": {"field": "g", "type": "nominal", "sort": ["High risk", "Low risk"], "scale": {"paddingInner": 0.49, "paddingOuter": 0.264}, "axis": {"title": null, "labelAngle": 0, "domain": true, "domainColor": "#222222", "tickColor": "#222222", "labelFontSize": 12}},
       "y": {"aggregate": "count", "type": "quantitative", "scale": {"domain": [0, 96.8], "nice": false}, "axis": {"title": "Number of patients", "values": [0, 20, 40, 60, 80], "domain": false, "tickColor": "#222222", "labelFontSize": 12, "labelPadding": 3, "titlePadding": 3, "labelOverlap": false}},
       "color": {"field": "st", "type": "nominal", "scale": {"domain": ["Dead", "Alive"], "range": ["#ff0000", "#d3d3d3"]}, "legend": null},
       "order": {"field": "st", "sort": "descending"}}},
     {"data": {"values": [{"g": "High risk"}]}, "mark": {"type": "rule", "color": "#222222", "strokeWidth": 1},
      "encoding": {"x": {"field": "g", "type": "nominal", "sort": ["High risk", "Low risk"], "bandPosition": -0.518},
       "y": {"datum": 0, "type": "quantitative", "axis": {"title": "Number of patients", "values": [0, 20, 40, 60, 80], "domain": false, "tickColor": "#222222", "labelFontSize": 12, "labelPadding": 3, "titlePadding": 3, "labelOverlap": false}},
       "y2": {"datum": 80}}},
     {"data": {"values": [{"g": "High risk", "lab": "χ² = 13.45"}]},
      "mark": {"type": "text", "align": "left", "baseline": "middle", "fontSize": 11.5, "dx": -20, "color": "#222222"},
      "encoding": {"x": {"field": "g", "type": "nominal", "sort": ["High risk", "Low risk"]},
       "y": {"datum": 80, "type": "quantitative", "axis": {"title": "Number of patients", "values": [0, 20, 40, 60, 80], "domain": false, "tickColor": "#222222", "labelFontSize": 12, "labelPadding": 3, "titlePadding": 3, "labelOverlap": false}},
       "text": {"field": "lab"}}},
     {"data": {"values": [{"g": "Low risk", "lab": "P = 0.0002"}]},
      "mark": {"type": "text", "align": "left", "baseline": "middle", "fontSize": 11.5, "dx": -12, "color": "#222222"},
      "encoding": {"x": {"field": "g", "type": "nominal", "sort": ["High risk", "Low risk"]},
       "y": {"datum": 80, "type": "quantitative", "axis": {"title": "Number of patients", "values": [0, 20, 40, 60, 80], "domain": false, "tickColor": "#222222", "labelFontSize": 12, "labelPadding": 3, "titlePadding": 3, "labelOverlap": false}},
       "text": {"field": "lab"}}}
    ]
   },
   {
    "title": {"text": "E", "dx": -15},
    "vconcat": [
     {"width": 206, "height": 4, "view": {"stroke": null}, "data": {"name": "pts"}, "mark": {"type": "rect"},
      "encoding": {
       "x": {"field": "p", "type": "ordinal", "scale": {"paddingInner": 0, "paddingOuter": 0}, "axis": {"orient": "top", "values": [44, 113], "labelExpr": "datum.value < 71 ? 'Low risk' : 'High risk'", "ticks": false, "tickSize": 0, "title": null, "labelAngle": 0, "labelFontSize": 12, "labelPadding": 5}},
       "color": {"field": "g", "type": "nominal", "scale": {"domain": ["Low risk", "High risk"], "range": ["#f59a95", "#2ccfd6"]}, "legend": null}}},
     {"width": 206, "height": 135, "view": {"stroke": null}, "data": {"name": "pts"},
      "transform": [{"fold": ["TMEM88", "HOXB2", "FGD1", "TOGARAM1", "ARHGDIB", "CD40"], "as": ["gene", "beta"]}],
      "mark": {"type": "rect"},
      "encoding": {
       "x": {"field": "p", "type": "ordinal", "scale": {"paddingInner": 0, "paddingOuter": 0}, "axis": null},
       "y": {"field": "gene", "type": "nominal", "sort": ["TMEM88", "HOXB2", "FGD1", "TOGARAM1", "ARHGDIB", "CD40"], "scale": {"paddingInner": 0, "paddingOuter": 0}, "axis": {"orient": "right", "title": null, "ticks": false, "tickSize": 0, "labelFontSize": 12, "labelPadding": 4}},
       "color": {"field": "beta", "type": "quantitative", "scale": {"domain": [0.07, 0.53, 0.96], "range": ["#a8a8a8", "#ffffff", "#ff0000"], "interpolate": "rgb"},
        "legend": {"title": "Methylation β value", "orient": "none", "legendX": 56, "legendY": 156, "direction": "horizontal", "gradientLength": 102, "gradientThickness": 8, "values": [0.2, 0.4, 0.6, 0.8], "titleOrient": "bottom", "titleAnchor": "middle", "labelOffset": -22, "titleFontWeight": "normal", "titleFontSize": 12, "labelFontSize": 12, "titlePadding": 3}}}}
    ],
    "spacing": 1,
    "resolve": {"scale": {"color": "independent", "x": "independent"}, "legend": {"color": "independent"}}
   }
  ],
  "spacing": 0,
  "resolve": {"scale": {"color": "independent"}, "legend": {"color": "independent"}}
 }
],
"spacing": 8,
"resolve": {"scale": {"color": "independent"}, "legend": {"color": "independent"}}
}
